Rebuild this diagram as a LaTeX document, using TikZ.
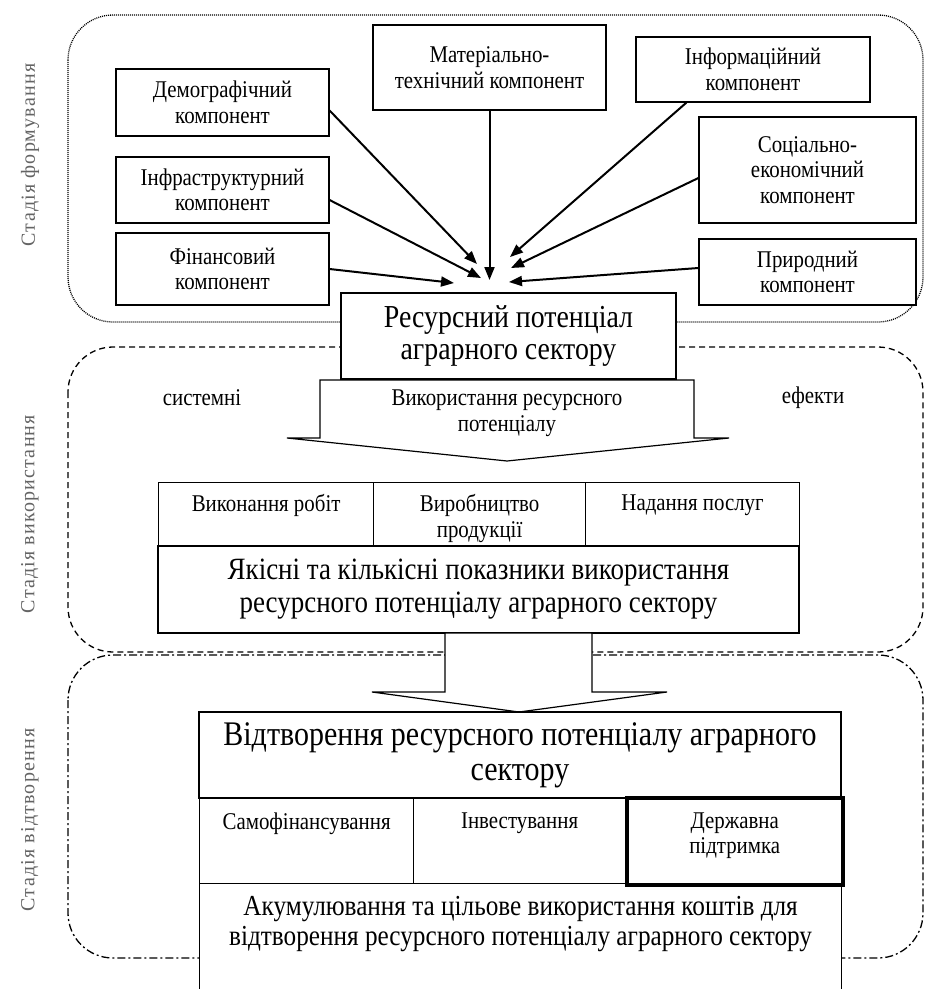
\documentclass[tikz,border=0pt]{standalone}
\usepackage{fontspec}
\setmainfont{Liberation Serif}[FakeStretch=0.87]
\newfontfamily\stagefont[LetterSpace=6]{Liberation Serif}
\usetikzlibrary{arrows.meta,calc}

\definecolor{stagegray}{RGB}{100,100,100}

\tikzset{every picture/.style={line width=1pt},
  compbox/.style={draw,fill=white,line width=1.2pt,inner sep=0pt,align=center,font=\fontsize{24}{25.5}\selectfont},
  cell/.style={draw,fill=white,line width=1.2pt,inner sep=0pt,anchor=north west},
  celltext/.style={anchor=north,inner sep=0pt,align=center,font=\fontsize{24}{25.5}\selectfont},
  conn/.style={line width=2pt,-{Triangle[length=13pt,width=10pt]}},
  bigarrow/.style={draw,fill=white,line width=1.2pt,line join=miter},
  stagebox/.style={rounded corners=45pt,line width=1.3pt},
  stagelabel/.style={rotate=90,text=stagegray,inner sep=0pt,font=\stagefont\fontsize{20}{22}\selectfont},
}

\begin{document}
\begin{tikzpicture}[x=1pt,y=1pt,yscale=-1,xscale=1]
\fill[white] (0,0) rectangle (925,989);
\useasboundingbox (0,0) rectangle (925,989);

%Shape: Rounded Rect [id:stage1]
\draw [stagebox,dash pattern={on 1pt off 1pt}] (68,15) rectangle (923,322);
%Shape: Rounded Rect [id:stage2]
\draw [stagebox,dash pattern={on 6pt off 4pt}] (68,347) rectangle (923,652);
%Shape: Rounded Rect [id:stage3]
\draw [stagebox,dash pattern={on 8pt off 3pt on 2pt off 3pt}] (68,655) rectangle (923,958);

% Text Node
\node [stagelabel] (lform) at (30,155) {Стадія формування};
\node [stagelabel] (lvyk) at (30,514) {Стадія використання};
\node [stagelabel] (lvidtv) at (30,820) {Стадія відтворення};

%Components
\node [compbox,minimum width=213pt,minimum height=67pt] (demo) at (222.5,102.5) {Демографічний\\компонент};
\node [compbox,minimum width=233pt,minimum height=85pt] (mater) at (489.5,67.5) {Матеріально-\\технічний компонент};
\node [compbox,minimum width=234pt,minimum height=65pt] (inform) at (753,69.5) {Інформаційний\\компонент};
\node [compbox,minimum width=217pt,minimum height=106pt] (social) at (807.5,170) {Соціально-\\економічний\\компонент};
\node [compbox,minimum width=213pt,minimum height=66pt] (infra) at (222.5,190) {Інфраструктурний\\компонент};
\node [compbox,minimum width=213pt,minimum height=72pt] (finans) at (222.5,269) {Фінансовий\\компонент};
\node [compbox,minimum width=217pt,minimum height=66pt] (pryrod) at (807.5,272) {Природний\\компонент};

%Resource potential
\node [compbox,minimum width=335pt,minimum height=86pt,font=\fontsize{32}{32}\selectfont] (resurs) at (508.5,336) {Ресурсний потенціал\\аграрного сектору};

%Arrow tips
\coordinate (tdemo) at (477,264);
\coordinate (tmater) at (489.5,280);
\coordinate (tinform) at (510,257);
\coordinate (tsocial) at (511,268);
\coordinate (tinfra) at (481,278);
\coordinate (tfinans) at (454,283);
\coordinate (tpryrod) at (509,282);

\draw [conn] ($(demo.east)+(0,8)$) -- (tdemo);
\draw [conn] (mater.south) -- (tmater);
\draw [conn] ($(inform.south west)+(51,0)$) -- (tinform);
\draw [conn] ($(social.west)+(0,8)$) -- (tsocial);
\draw [conn] ($(infra.east)+(0,10)$) -- (tinfra);
\draw [conn] (finans.east) -- (tfinans);
\draw [conn] ($(pryrod.west)+(0,-4)$) -- (tpryrod);

%Shape: Arrow [id:usearrow]
\draw [bigarrow] (320,380) -- (694,380) -- (694,438) -- (729,438) -- (507,461) -- (287,438) -- (320,438) -- cycle;
\node [celltext,anchor=center] (vykoryst) at (507,413) {Використання ресурсного\\потенціалу};
\node [celltext,anchor=center] (systemni) at (202,398) {системні};
\node [celltext,anchor=center] (efekty) at (813,398) {ефекти};

%Usage table
\node [cell,minimum width=215pt,minimum height=64pt] (vykon) at (158,482) {};
\node [cell,minimum width=212pt,minimum height=64pt] (vyrob) at (373,482) {};
\node [cell,minimum width=214pt,minimum height=64pt] (nadan) at (585,482) {};
\node [celltext] (tvykon) at ($(vykon.north)+(0,12)$) {Виконання робіт};
\node [celltext] (tvyrob) at ($(vyrob.north)+(0,12)$) {Виробництво\\продукції};
\node [celltext] (tnadan) at ($(nadan.north)+(0,12)$) {Надання послуг};
\node [compbox,minimum width=641pt,minimum height=87pt,font=\fontsize{31}{33}\selectfont] (pokaz) at (478.5,589.5) {Якісні та кількісні показники використання\\ресурсного потенціалу аграрного сектору};

%Shape: Arrow [id:reprarrow]
\draw [bigarrow] (445,633) -- (592,633) -- (592,692) -- (667,692) -- (519,712) -- (372,692) -- (445,692) -- cycle;

%Reproduction table
\node [compbox,minimum width=642pt,minimum height=86pt,font=\fontsize{34.5}{35}\selectfont] (vidtv) at (520,755) {Відтворення ресурсного потенціалу аграрного\\сектору};
\node [cell,minimum width=214pt,minimum height=85pt] (samofin) at (199,798) {};
\node [cell,minimum width=212pt,minimum height=85pt] (invest) at (413,798) {};
\node [cell,minimum width=642pt,minimum height=120pt] (akumul) at (199,883) {};
\node [cell,minimum width=216pt,minimum height=87pt,line width=3.5pt] (derzh) at (625,796) {};
\node [celltext] (tsamofin) at ($(samofin.north)+(0,14)$) {Самофінансування};
\node [celltext] (tinvest) at ($(invest.north)+(0,14)$) {Інвестування};
\node [celltext] (tderzh) at ($(derzh.north)+(0,16)$) {Державна\\підтримка};
\node [celltext,font=\fontsize{29}{30}\selectfont] (takumul) at ($(akumul.north)+(0,13)$) {Акумулювання та цільове використання коштів для\\відтворення ресурсного потенціалу аграрного сектору};

\end{tikzpicture}
\end{document}
